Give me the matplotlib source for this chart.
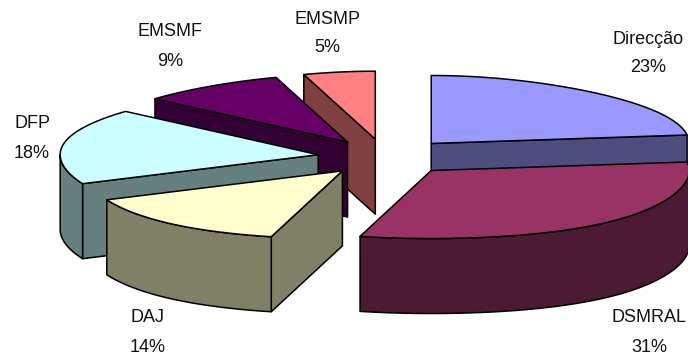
import matplotlib
matplotlib.use("Agg")
import matplotlib.pyplot as plt
from matplotlib.patches import Polygon
import numpy as np

names = ["Direcção", "DSMRAL", "DAJ", "DFP", "EMSMF", "EMSMP"]
values = [23, 31, 14, 18, 9, 5]
top_colors = ["#9999FF", "#993366", "#FFFFCC", "#CCFFFF", "#660066", "#FF8080"]
side_colors = ["#4D4D80", "#4D1A33", "#808066", "#668080", "#330033", "#804040"]
label_x = [648, 649, 148, 32, 170, 327]
label_y = [39, 318, 318, 124, 32, 19]

plt.rcParams["font.family"] = ["Liberation Sans", "DejaVu Sans"]

center_x = 386
center_y = 157
radius_x = 258
radius_y = 68
depth = 75
explode = 0.265
persp = 0.12

fig = plt.figure(figsize=(6.88, 3.56), dpi=100)
ax = fig.add_axes([0, 0, 1, 1])
ax.set_xlim(0, 688)
ax.set_ylim(356, 0)
ax.axis("off")


# point on the rim of a slice, the front of the pie is a bit wider than the back
def rim(apex, t):
    x = apex[0] + radius_x * np.sin(t) * (1 - persp * np.cos(t) ** 3)
    y = apex[1] - radius_y * np.cos(t)
    return np.column_stack([x, y])


def shape(pts, color, z):
    ax.add_patch(Polygon(pts, closed=True, facecolor=color, edgecolor="black",
                         linewidth=1.1, joinstyle="round", zorder=z))


down = np.array([0, depth])
edges = np.radians(np.concatenate([[0], np.cumsum(values)]) * 3.6)

for i in range(len(values)):
    t1 = edges[i]
    t2 = edges[i + 1]
    mid = (t1 + t2) / 2
    apex = np.array([center_x + explode * radius_x * np.sin(mid),
                     center_y - explode * radius_y * np.cos(mid)])
    # slices further back get painted first
    z = 10 - np.cos(mid)
    if i == 2:
        z = z - 0.1
    apex_pt = apex.reshape(1, 2)
    arc = rim(apex, np.linspace(t1, t2, 80))

    # flat cut faces, only those turned towards the viewer
    if np.sin(t1) < 0:
        p = rim(apex, np.array([t1]))
        shape(np.vstack([apex_pt, p, p + down, apex_pt + down]), side_colors[i], z)
    if np.sin(t2) > 0:
        p = rim(apex, np.array([t2]))
        shape(np.vstack([apex_pt, p, p + down, apex_pt + down]), side_colors[i], z)

    # outer wall, front half of the rim
    lo = max(t1, np.pi / 2)
    hi = min(t2, 3 * np.pi / 2)
    if lo < hi:
        wall = rim(apex, np.linspace(lo, hi, 80))
        shape(np.vstack([wall, wall[::-1] + down]), side_colors[i], z)

    shape(np.vstack([apex_pt, arc]), top_colors[i], z + 0.01)

    ax.text(label_x[i], label_y[i], names[i], ha="center", va="center",
            fontsize=13, color="#111111", zorder=30)
    ax.text(label_x[i], label_y[i] + 29, str(values[i]) + "%", ha="center", va="center",
            fontsize=13, color="#111111", zorder=30)

fig.savefig("out.png", dpi=100, facecolor="white")
